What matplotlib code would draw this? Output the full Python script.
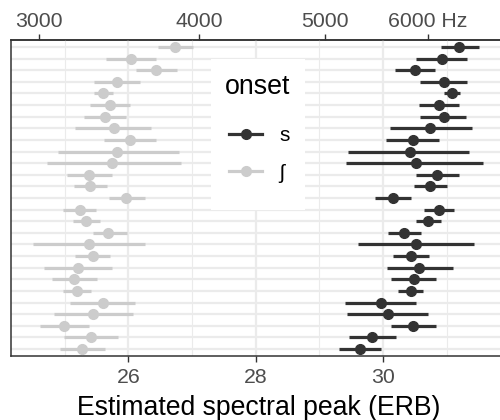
import numpy as np
import matplotlib
matplotlib.use("Agg")
import matplotlib.pyplot as plt
from matplotlib.lines import Line2D
from matplotlib.patches import Rectangle

plt.rcParams['font.family'] = ['Liberation Sans', 'DejaVu Sans']

# estimates per item, listed top row first (ERB)
sh_mid = [26.73, 26.04, 26.44, 25.82, 25.61, 25.71, 25.63, 25.77, 26.03, 25.82, 25.74, 25.39, 25.40, 25.97,
          25.24, 25.34, 25.69, 25.39, 25.44, 25.21, 25.15, 25.20, 25.60, 25.45, 24.99, 25.41, 25.28]
sh_lo = [26.46, 25.65, 26.12, 25.47, 25.46, 25.40, 25.31, 25.16, 25.62, 24.90, 24.72, 25.04, 25.15, 25.70,
         24.98, 25.14, 25.44, 24.51, 25.16, 24.68, 24.80, 24.98, 25.08, 24.83, 24.62, 24.99, 24.93]
sh_hi = [27.02, 26.44, 26.77, 26.18, 25.76, 26.02, 25.96, 26.36, 26.44, 26.80, 26.82, 25.74, 25.66, 26.26,
         25.49, 25.55, 25.98, 26.26, 25.71, 25.74, 25.51, 25.42, 26.10, 26.07, 25.38, 25.84, 25.63]

s_mid = [31.19, 30.92, 30.50, 30.95, 31.08, 30.87, 30.95, 30.74, 30.47, 30.42, 30.51, 30.85, 30.74, 30.16,
         30.87, 30.71, 30.33, 30.51, 30.44, 30.57, 30.48, 30.43, 29.97, 30.07, 30.47, 29.83, 29.63]
s_lo = [30.90, 30.52, 30.19, 30.58, 30.96, 30.56, 30.58, 30.10, 30.04, 29.45, 29.42, 30.51, 30.48, 29.87,
        30.64, 30.52, 30.08, 29.60, 30.15, 30.06, 30.13, 30.24, 29.40, 29.44, 30.12, 29.47, 29.30]
s_hi = [31.50, 31.32, 30.81, 31.32, 31.21, 31.19, 31.30, 31.39, 30.87, 31.34, 31.57, 31.19, 31.00, 30.43,
        31.11, 30.90, 30.60, 31.42, 30.72, 31.09, 30.83, 30.62, 30.52, 30.70, 30.83, 30.20, 29.96]

hz_ticks = [3000, 4000, 5000, 6000]
hz_labels = ["3000", "4000", "5000", "6000 Hz"]
erb_ticks = [26, 28, 30]

DARK = "#333333"
LIGHT = "#cccccc"
GRID = "#ebebeb"


def hz_to_erb(f):
    return 21.4 * np.log10(1 + 0.00437 * np.asarray(f, dtype=float))


def erb_to_hz(e):
    return (10 ** (np.asarray(e, dtype=float) / 21.4) - 1) / 0.00437


n = len(s_mid)
ypos = np.arange(n, 0, -1)

fig = plt.figure(figsize=(5, 4.2), dpi=100)
ax = fig.add_axes([11 / 500, 1 - 356 / 420, 494.5 / 500, 316 / 420])

for mid, lo, hi, col in [(sh_mid, sh_lo, sh_hi, LIGHT), (s_mid, s_lo, s_hi, DARK)]:
    mid = np.array(mid)
    xerr = [mid - np.array(lo), np.array(hi) - mid]
    ax.errorbar(mid, ypos, xerr=xerr, fmt='o', color=col, ecolor=col,
                markersize=7, elinewidth=2.3, capsize=0, zorder=3)

ax.set_xlim(24.16, 31.92)
ax.set_ylim(0.4, n + 0.6)
ax.set_yticks(ypos)
ax.set_xticks(erb_ticks)
ax.set_xticks([25, 27, 29, 31], minor=True)
ax.grid(True, which='major', color=GRID, lw=1.6)
ax.grid(True, which='minor', axis='x', color=GRID, lw=0.8)
ax.set_axisbelow(True)
ax.tick_params(axis='y', left=False, labelleft=False)
ax.tick_params(axis='x', which='major', length=4.5, width=1, color=DARK,
               labelsize=15.3, labelcolor="#4d4d4d", pad=4)
ax.tick_params(axis='x', which='minor', length=0)
for side in ['left', 'bottom', 'top']:
    ax.spines[side].set_color(DARK)
    ax.spines[side].set_linewidth(1.1)
ax.spines['right'].set_visible(False)

top = ax.secondary_xaxis('top', functions=(erb_to_hz, hz_to_erb))
top.set_xticks(hz_ticks)
top.set_xticklabels(hz_labels)
top.tick_params(length=4.5, width=1, color=DARK, labelsize=15.3, labelcolor="#4d4d4d", pad=2)
top.spines['top'].set_color(DARK)
top.spines['top'].set_linewidth(1.1)

ax.set_xlabel("Estimated spectral peak (ERB)", fontsize=19.2, color="black", labelpad=6)

# legend background
ax.add_patch(Rectangle((211 / 500, 1 - 210 / 420), 94 / 500, 151 / 420,
                       transform=fig.transFigure, facecolor='white', edgecolor='none', zorder=2))
fig.text(225 / 500, 1 - 94 / 420, "onset", fontsize=19.3, va='baseline', ha='left')
handles = [Line2D([], [], color=DARK, marker='o', markersize=7, lw=2.3),
           Line2D([], [], color=LIGHT, marker='o', markersize=7, lw=2.3)]
leg = ax.legend(handles, ["s", "ʃ"], loc='upper left',
                bbox_to_anchor=(229 / 500, 1 - 126 / 420), bbox_transform=fig.transFigure,
                frameon=False, fontsize=15, handlelength=1.59, handletextpad=0.82,
                labelspacing=0.9, borderpad=0, borderaxespad=0)
leg.set_zorder(5)

fig.savefig("out.png", dpi=100)
